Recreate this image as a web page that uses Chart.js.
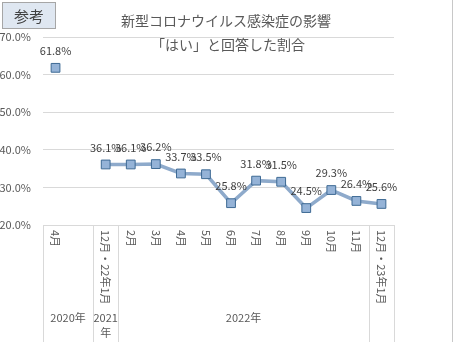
<!DOCTYPE html>
<html><head><meta charset="utf-8">
<script src="https://cdn.jsdelivr.net/npm/chart.js@4"></script>
<style>html,body{margin:0;padding:0;background:#fff}#wrap{width:457px;height:355px}</style>
</head><body><div id="wrap"><canvas id="c" width="457" height="355"></canvas></div>
<script>
const categories = ['4月', '', '12月・22年1月', '2月', '3月', '4月', '5月', '6月', '7月', '8月', '9月', '10月', '11月', '12月・23年1月'];
const values = [61.8, null, 36.1, 36.1, 36.2, 33.7, 33.5, 25.8, 31.8, 31.5, 24.5, 29.3, 26.4, 25.6];
const yearGroups = ['2020年', '2021\n年', '2022年', ''];
const yearGroupSpans = [2, 1, 10, 1];
const titleLines = ['新型コロナウイルス感染症の影響', '「はい」と回答した割合'];
const badgeText = '参考';
const yTicks = [20, 30, 40, 50, 60, 70];

const FONT = '"Noto Sans CJK JP", "Noto Sans", sans-serif';
const TXT = '#595959';

const overlay = {
  id: 'overlay',
  afterDraw(chart) {
    const ctx = chart.ctx;
    const x = chart.scales.x, y = chart.scales.y;
    const ca = chart.chartArea;
    ctx.save();
    // title
    ctx.fillStyle = TXT;
    ctx.font = '14px ' + FONT;
    ctx.textAlign = 'center';
    ctx.textBaseline = 'middle';
    ctx.fillText(titleLines[0], 226, 21);
    ctx.fillText(titleLines[1], 228, 45);
    // badge
    ctx.fillStyle = '#dfe7f1';
    ctx.fillRect(2, 2, 54, 27);
    ctx.strokeStyle = '#a6a6a6';
    ctx.lineWidth = 1;
    ctx.strokeRect(2.5, 2.5, 53, 26);
    ctx.fillStyle = '#404040';
    ctx.font = '15px ' + FONT;
    ctx.fillText(badgeText, 29, 16);
    // right border
    ctx.strokeStyle = '#c8c8c8';
    ctx.beginPath();
    ctx.moveTo(452.5, 0); ctx.lineTo(452.5, 342);
    ctx.stroke();
    // x axis line + group separators
    const half = (x.getPixelForValue(1) - x.getPixelForValue(0)) / 2;
    ctx.strokeStyle = '#d9d9d9';
    ctx.beginPath();
    ctx.moveTo(ca.left, Math.round(ca.bottom) + 0.5);
    ctx.lineTo(ca.right, Math.round(ca.bottom) + 0.5);
    ctx.stroke();
    let idx = 0;
    const edges = [0];
    yearGroupSpans.forEach(s => { idx += s; edges.push(idx); });
    ctx.beginPath();
    edges.forEach(e => {
      const px = Math.round(x.getPixelForValue(e) - half) + 0.5;
      ctx.moveTo(px, ca.bottom);
      ctx.lineTo(px, 342);
    });
    ctx.stroke();
    // category labels (vertical, top to bottom)
    ctx.fillStyle = TXT;
    ctx.font = '11px ' + FONT;
    ctx.textAlign = 'left';
    ctx.textBaseline = 'middle';
    categories.forEach((c, i) => {
      if (!c) return;
      ctx.save();
      ctx.translate(x.getPixelForValue(i), ca.bottom + 5);
      ctx.rotate(Math.PI / 2);
      ctx.fillText(c, 0, 0);
      ctx.restore();
    });
    // group labels
    ctx.textAlign = 'center';
    ctx.font = '11px ' + FONT;
    yearGroups.forEach((g, gi) => {
      if (!g) return;
      const a = x.getPixelForValue(edges[gi]) - half;
      const b = x.getPixelForValue(edges[gi + 1]) - half;
      const cx = (a + b) / 2;
      const lines = g.split('\n');
      lines.forEach((ln, li) => ctx.fillText(ln, cx, 318 + li * 15));
    });
    // data labels
    const meta = chart.getDatasetMeta(0);
    ctx.fillStyle = '#404040';
    ctx.font = '11px ' + FONT;
    meta.data.forEach((p, i) => {
      if (values[i] == null) return;
      ctx.fillText(values[i].toFixed(1) + '%', p.x, p.y - 17);
    });
    ctx.restore();
  }
};

new Chart(document.getElementById('c'), {
  type: 'line',
  data: {
    labels: categories,
    datasets: [{
      data: values,
      borderColor: '#8eaacb',
      borderWidth: 3.5,
      backgroundColor: '#95b3d7',
      pointBackgroundColor: '#95b3d7',
      pointBorderColor: '#3e6a94',
      pointBorderWidth: 1,
      pointStyle: 'rect',
      pointRadius: 6.2,
      tension: 0,
      spanGaps: false
    }]
  },
  options: {
    responsive: false,
    animation: false,
    devicePixelRatio: 1,
    layout: { padding: { left: 0, top: 37, right: 63, bottom: 130 } },
    plugins: { legend: { display: false }, title: { display: false }, tooltip: { enabled: false } },
    scales: {
      x: { display: false, offset: true },
      y: {
        min: 20, max: 70,
        afterFit(s) { s.width = 43; },
        afterBuildTicks(s) { s.ticks = yTicks.map(v => ({ value: v })); },
        grid: { color: '#d9d9d9', drawTicks: false },
        border: { display: false },
        ticks: {
          padding: 12,
          color: TXT,
          font: { family: FONT, size: 11 },
          callback: v => v.toFixed(1) + '%'
        }
      }
    }
  },
  plugins: [overlay]
});
</script></body></html>
